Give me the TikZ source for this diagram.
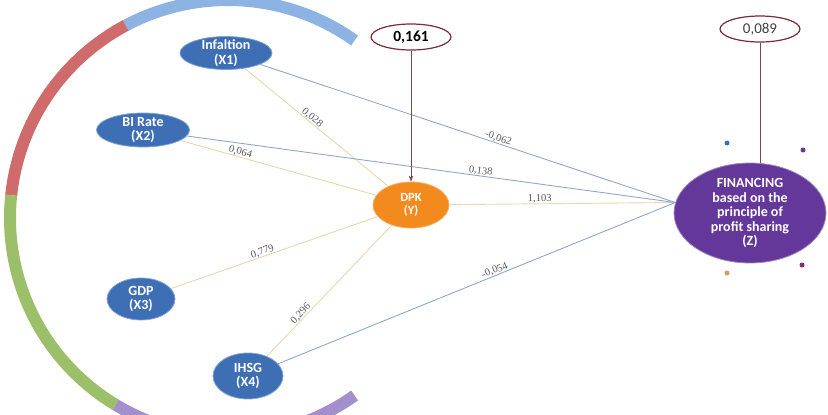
\documentclass[tikz,border=0pt]{standalone}
\usepackage{fontspec}
\setmainfont{Carlito}
\newfontfamily\labfont{Liberation Serif}
\usetikzlibrary{arrows.meta,positioning,shapes.geometric}
\definecolor{vblue}{HTML}{3E6FB5}
\definecolor{vblueedge}{HTML}{7FA3D6}
\definecolor{yorange}{HTML}{F28A1E}
\definecolor{zpurple}{HTML}{63389A}
\definecolor{rred}{HTML}{7A2A38}
\definecolor{ltan}{HTML}{EAD6AE}
\definecolor{lblue}{HTML}{8EA8CC}
\definecolor{arcblue}{HTML}{8DB3E2}
\definecolor{arcred}{HTML}{D06B6B}
\definecolor{arcgreen}{HTML}{9CC06A}
\definecolor{arcpurple}{HTML}{A28FCB}
\definecolor{dotgold}{HTML}{C9A35A}

\begin{document}
\begin{tikzpicture}[x=1pt,y=-1pt,
    every node/.style={align=center},
    varnode/.style={ellipse, draw=vblueedge, thick, fill=vblue, text=white,
        font=\fontsize{14}{14.5}\selectfont\bfseries, inner xsep=0pt, inner ysep=-2.5pt},
    resnode/.style={ellipse, draw=rred, very thick, fill=white, inner sep=0pt,
        minimum width=80, minimum height=26},
    tanline/.style={ltan, line width=0.9pt},
    blueline/.style={lblue, line width=0.9pt},
    coef/.style={sloped, above=-1pt, font=\labfont\fontsize{10.5}{11}\selectfont, text=black!65, inner sep=1pt},
    arcseg/.style={line width=12pt}]
  \useasboundingbox (0,0) rectangle (828,415);
  % outer arc
  \draw[arcseg, arcblue] ([shift={(-54.5:218)}]228,218) arc[start angle=-54.5, end angle=-118, radius=218];
  \draw[arcseg, arcred] ([shift={(-118:218)}]228,218) arc[start angle=-118, end angle=-174, radius=218];
  \draw[arcseg, arcgreen] ([shift={(-174:218)}]228,218) arc[start angle=-174, end angle=-239, radius=218];
  \draw[arcseg, arcpurple] ([shift={(-239:218)}]228,218) arc[start angle=-239, end angle=-305.5, radius=218];
  % nodes
  \node[varnode, minimum width=92, minimum height=33] (x1) at (226,53) {Infaltion\\(X1)};
  \node[varnode, minimum width=93, minimum height=34] (x2) at (143,130) {BI Rate\\(X2)};
  \node[varnode, minimum width=68, minimum height=42] (x3) at (141,299) {GDP\\(X3)};
  \node[varnode, minimum width=70, minimum height=46] (x4) at (248,376) {IHSG\\(X4)};
  \node[ellipse, draw=yorange!70!white, thick, fill=yorange, text=white,
        font=\fontsize{12.5}{13.5}\selectfont\bfseries, minimum width=76, minimum height=46,
        inner sep=0pt] (dpk) at (411,205) {DPK\\(Y)};
  \node[ellipse, draw=zpurple!60!white, thick, fill=zpurple, text=white,
        font=\fontsize{14}{14.5}\selectfont\bfseries, minimum width=152, minimum height=100,
        inner sep=0pt] (fin) at (750,213)
        {FINANCING\\based on the\\principle of\\profit sharing\\(Z)};
  \node[resnode, font=\fontsize{15.5}{16}\selectfont\bfseries] (r1) at (411,37) {0,161};
  \node[resnode, font=\fontsize{15}{16}\selectfont, text=black!75] (r2) at (760,29) {0,089};
  % dots
  \fill[vblue] (727,143) circle (2.5);
  \fill[zpurple] (803,150) circle (2.5);
  \fill[dotgold] (727,273) circle (2.5);
  \fill[zpurple!75!red] (802,265) circle (2.5);
  % paths
  \draw[tanline] (x1) -- (dpk) node[coef, pos=0.45] {0,028};
  \draw[tanline] (x2) -- (dpk) node[coef, pos=0.3] {0,064};
  \draw[tanline] (x3) -- (dpk) node[coef, pos=0.45] {0,779};
  \draw[tanline] (x4) -- (dpk) node[coef, pos=0.3] {0,296};
  \draw[tanline] (dpk) -- (fin.172) node[coef, pos=0.4] {1,103};
  \draw[blueline] (x1) -- (fin.172) node[coef, pos=0.57] {-0,062};
  \draw[blueline] (x2) -- (fin.172) node[coef, pos=0.6] {0,138};
  \draw[blueline] (x4) -- (fin.172) node[coef, pos=0.55] {-0,054};
  \draw[-{Stealth[length=6pt]}, rred!70!gray, line width=0.8pt] (r1) -- (dpk);
  \draw[rred!70!gray, line width=0.8pt] (r2) -- (r2 |- fin.north);
\end{tikzpicture}
\end{document}
